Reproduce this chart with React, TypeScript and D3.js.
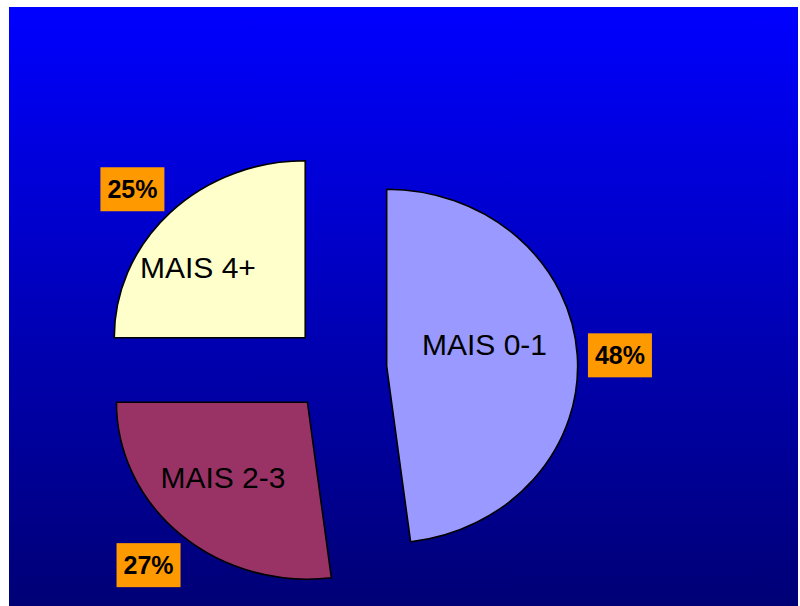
import React from "react";
import * as d3 from "d3";

const categories = ["MAIS 0-1", "MAIS 2-3", "MAIS 4+"];
const values = [48, 27, 25];
const percentLabels = ["48%", "27%", "25%"];
const colors = ["#9999FF", "#993366", "#FFFFCC"];

// layout
const W = 800;
const H = 606;
const cx = 339;
const cy = 369;
const rx = 191;
const ry = 177;
const explode = 0.25;
const labelFrac = 0.55;
const pctFrac = 1.25;
const labelNudge = [[-7, -16], [-15, 2], [-33, -1]];
const pctNudge = [[-5, 3], [-1, -3], [-4, 8]];
const boxW = 64;
const boxH = 44;

export default function App() {
  const pie = d3.pie<number>().sort(null).value((d) => d);
  const arcs = pie(values);
  const arc = d3.arc<d3.PieArcDatum<number>>().innerRadius(0).outerRadius(ry);
  const sx = rx / ry;

  return (
    <svg width={W} height={H} style={{ position: "absolute", left: 0, top: 0 }}>
      <defs>
        <linearGradient id="bg" x1="0" y1="0" x2="0" y2="1">
          <stop offset="0%" stopColor="#0000FF" />
          <stop offset="100%" stopColor="#000075" />
        </linearGradient>
      </defs>
      <rect x={0} y={0} width={W} height={H} fill="#fff" />
      <rect x={9} y={7} width={789} height={599} fill="url(#bg)" />
      {arcs.map((a, i) => {
        const mid = (a.startAngle + a.endAngle) / 2;
        const ux = Math.sin(mid) * rx;
        const uy = -Math.cos(mid) * ry;
        const ox = cx + explode * ux;
        const oy = cy + explode * uy;
        const lx = ox + labelFrac * ux + labelNudge[i][0];
        const ly = oy + labelFrac * uy + labelNudge[i][1];
        const px = ox + pctFrac * ux + pctNudge[i][0];
        const py = oy + pctFrac * uy + pctNudge[i][1];
        return (
          <g key={categories[i]}>
            <path
              d={arc(a) || ""}
              transform={`translate(${ox},${oy}) scale(${sx},1)`}
              fill={colors[i]}
              stroke="#000"
              strokeWidth={1.6}
              vectorEffect="non-scaling-stroke"
              strokeLinejoin="miter"
            />
            <text
              x={lx}
              y={ly}
              textAnchor="middle"
              dominantBaseline="central"
              fontFamily="Liberation Sans, Arial, sans-serif"
              fontSize={30}
              fill="#000"
            >
              {categories[i]}
            </text>
            <rect x={px - boxW / 2} y={py - boxH / 2} width={boxW} height={boxH} fill="#FF9900" />
            <text
              x={px}
              y={py}
              textAnchor="middle"
              dominantBaseline="central"
              fontFamily="Liberation Sans, Arial, sans-serif"
              fontWeight="bold"
              fontSize={25}
              fill="#000"
            >
              {percentLabels[i]}
            </text>
          </g>
        );
      })}
    </svg>
  );
}
